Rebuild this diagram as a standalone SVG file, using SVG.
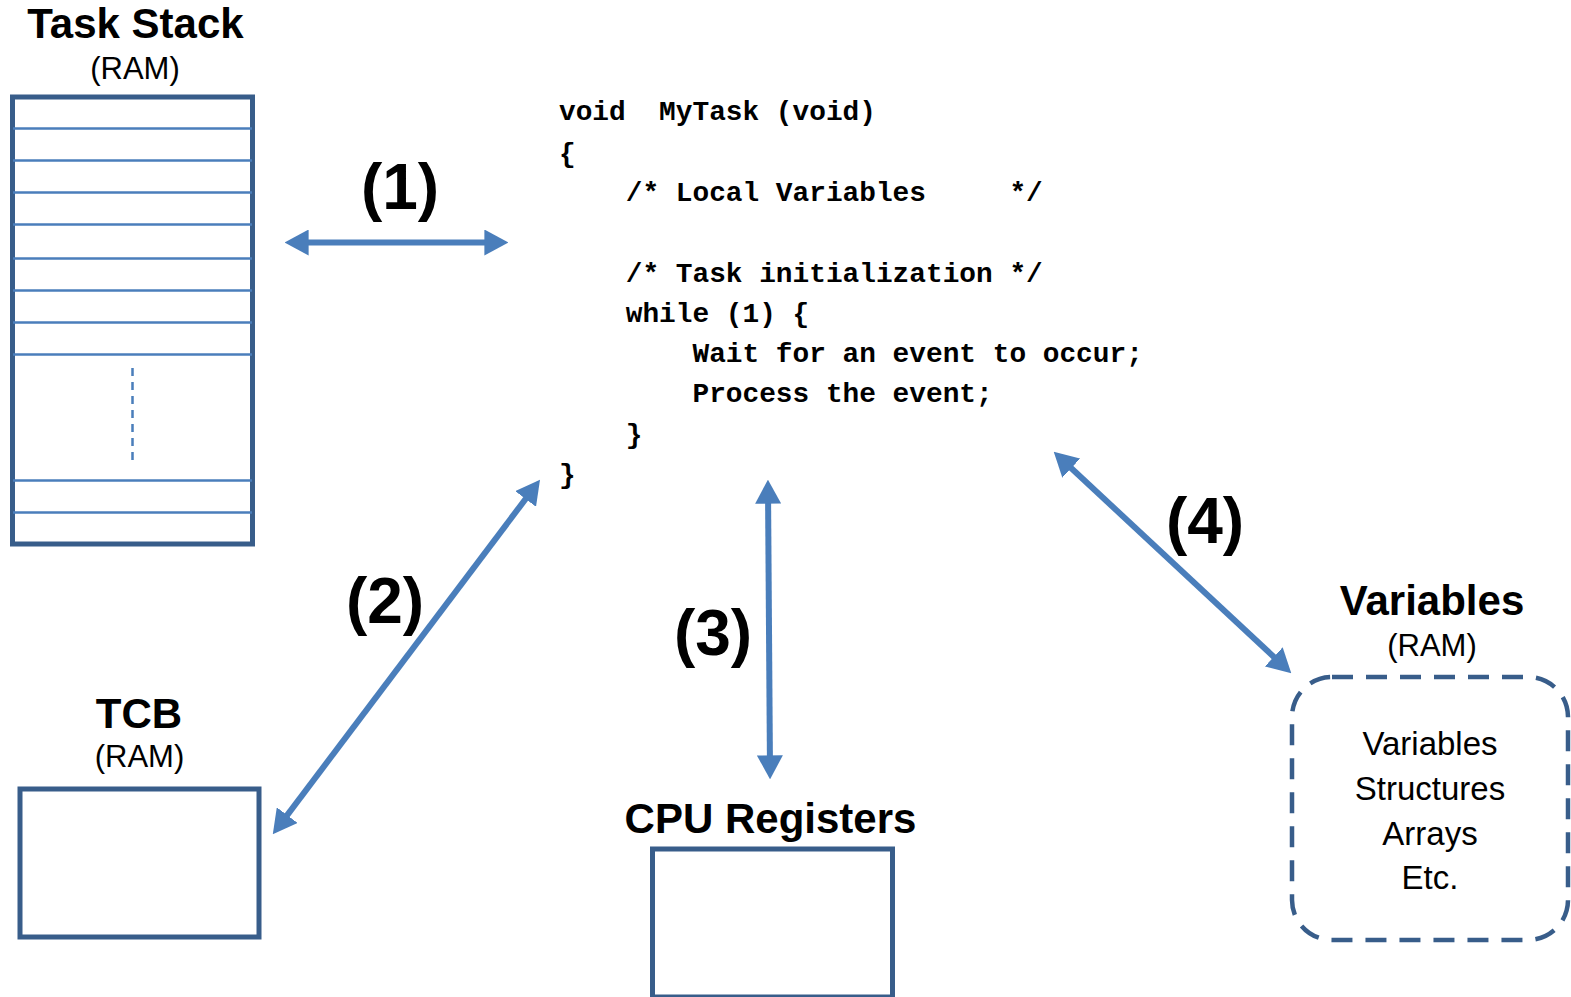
<svg xmlns="http://www.w3.org/2000/svg" width="1571" height="997" viewBox="0 0 1571 997">
<style>
.title{font-family:"Liberation Sans",Arial,sans-serif;font-weight:bold;font-size:42px;fill:#000;text-anchor:middle}
.sub{font-family:"Liberation Sans",Arial,sans-serif;font-size:31px;fill:#000;text-anchor:middle}
.num{font-family:"Liberation Sans",Arial,sans-serif;font-weight:bold;font-size:64px;fill:#000;text-anchor:middle}
.code{font-family:"Liberation Mono","Courier New",monospace;font-weight:bold;font-size:27.8px;fill:#000;white-space:pre}
.item{font-family:"Liberation Sans",Arial,sans-serif;font-size:33px;fill:#000;text-anchor:middle}
.box{fill:#fff;stroke:#385D8A;stroke-width:5}
.row{stroke:#4A7EBB;stroke-width:2.5}
.conn{fill:none;stroke:#4A7EBB;stroke-width:6;marker-start:url(#head);marker-end:url(#head)}
</style>
<defs>
<marker id="head" markerUnits="userSpaceOnUse" markerWidth="24" markerHeight="26" refX="15" refY="12.5" orient="auto-start-reverse" viewBox="0 0 23 25">
<path d="M0,0 L23,12.5 L0,25 z" fill="#4A7EBB"/>
</marker>
</defs>
<rect width="1571" height="997" fill="#fff"/>

<g id="task-stack">
<text class="title" x="135.5" y="38">Task Stack</text>
<text class="sub" x="135" y="79">(RAM)</text>
<rect class="box" x="12.5" y="97" width="240" height="447"/>
<line class="row" x1="13" y1="128.5" x2="252" y2="128.5"/>
<line class="row" x1="13" y1="160.5" x2="252" y2="160.5"/>
<line class="row" x1="13" y1="192.5" x2="252" y2="192.5"/>
<line class="row" x1="13" y1="224.5" x2="252" y2="224.5"/>
<line class="row" x1="13" y1="258.5" x2="252" y2="258.5"/>
<line class="row" x1="13" y1="290.5" x2="252" y2="290.5"/>
<line class="row" x1="13" y1="322.5" x2="252" y2="322.5"/>
<line class="row" x1="13" y1="354.5" x2="252" y2="354.5"/>
<line class="row" x1="13" y1="480.5" x2="252" y2="480.5"/>
<line class="row" x1="13" y1="512.5" x2="252" y2="512.5"/>
<line x1="132.5" y1="368" x2="132.5" y2="461" stroke="#4A7EBB" stroke-width="2.5" stroke-dasharray="8,6"/>
</g>

<g id="code">
<text class="code" x="559" y="120">void  MyTask (void)</text>
<text class="code" x="559" y="162">{</text>
<text class="code" x="559" y="201">    /* Local Variables     */</text>
<text class="code" x="559" y="282">    /* Task initialization */</text>
<text class="code" x="559" y="322">    while (1) {</text>
<text class="code" x="559" y="362">        Wait for an event to occur;</text>
<text class="code" x="559" y="402">        Process the event;</text>
<text class="code" x="559" y="443">    }</text>
<text class="code" x="559" y="483">}</text>
</g>

<g id="tcb">
<text class="title" x="139" y="728">TCB</text>
<text class="sub" x="139.5" y="767">(RAM)</text>
<rect class="box" x="20" y="789" width="239" height="148"/>
</g>

<g id="cpu-registers">
<text class="title" x="770.5" y="833">CPU Registers</text>
<rect class="box" x="652.5" y="849" width="240" height="148"/>
</g>

<g id="variables">
<text class="title" x="1432" y="615">Variables</text>
<text class="sub" x="1432" y="656">(RAM)</text>
<rect x="1292" y="677" width="276" height="263" rx="40" ry="40" fill="none" stroke="#385D8A" stroke-width="4.5" stroke-dasharray="21,13"/>
<text class="item" x="1430" y="755">Variables</text>
<text class="item" x="1430" y="800">Structures</text>
<text class="item" x="1430" y="845">Arrays</text>
<text class="item" x="1430" y="889">Etc.</text>
</g>

<g id="connectors">
<path class="conn" d="M293,242.5 L500,242.5"/>
<path class="conn" d="M277.8,827.6 L535,486.5"/>
<path class="conn" d="M768,488 L770,771"/>
<path class="conn" d="M1059.8,457.5 L1285.2,667.5"/>
<text class="num" x="400" y="209">(1)</text>
<text class="num" x="385" y="623">(2)</text>
<text class="num" x="713" y="655">(3)</text>
<text class="num" x="1205" y="543">(4)</text>
</g>
</svg>
